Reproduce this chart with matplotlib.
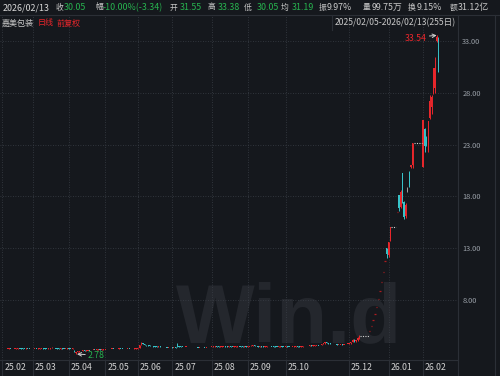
import matplotlib
matplotlib.use('Agg')
import matplotlib.pyplot as plt
from matplotlib.lines import Line2D
import matplotlib.transforms as mtransforms

plt.rcParams['font.family'] = ['Noto Sans CJK SC', 'DejaVu Sans']

W, H = 500, 376
BG = '#15181d'
UP = '#e8262b'
DOWN = '#37c3c9'
FLAT = '#a0a0a0'
GRID = '#3a3f47'
LINE = '#2b2f36'
GREEN = '#27b34f'
LABEL = '#c8c8c8'

# ---------------- data (2025/02/05 - 2026/02/13, 255 trading days) ----------------
opens = [
    # 2025-02
    3.25,3.27,3.29,3.28,3.30,3.31,3.29,3.28,3.30,3.33,3.36,3.34,3.32,3.30,3.29,3.31,3.30,3.28,
    # 2025-03
    3.27,3.28,3.30,3.29,3.31,3.34,3.36,3.33,3.31,3.30,3.32,3.35,3.38,3.36,3.34,3.33,3.31,3.32,3.30,3.29,3.30,
    # 2025-04
    3.31,3.30,3.29,3.12,2.86,2.98,3.05,3.08,3.10,3.12,3.11,3.14,3.16,3.15,3.18,3.20,3.19,3.21,3.22,3.20,3.23,
    # 2025-05
    3.24,3.26,3.28,3.27,3.29,3.30,3.28,3.27,3.29,3.31,3.30,3.28,3.27,3.29,3.30,3.28,3.27,3.29,3.31,
    # 2025-06
    3.33,3.40,3.75,3.80,3.73,3.67,3.62,3.60,3.56,3.55,3.52,3.50,3.49,3.51,3.48,3.46,3.47,3.45,3.44,3.46,
    # 2025-07
    3.45,3.43,3.44,3.70,3.55,3.50,3.49,3.48,3.47,3.49,3.46,3.45,3.47,3.48,3.46,3.45,3.44,3.46,3.47,3.45,3.44,3.46,3.48,
    # 2025-08
    3.47,3.49,3.50,3.52,3.51,3.49,3.50,3.53,3.55,3.52,3.50,3.51,3.49,3.48,3.50,3.52,3.54,3.53,3.51,3.50,3.52,
    # 2025-09
    3.51,3.53,3.55,3.58,3.60,3.57,3.54,3.52,3.53,3.51,3.50,3.52,3.54,3.56,3.55,3.53,3.51,3.50,3.49,3.51,3.52,3.50,
    # 2025-10
    3.49,3.52,3.50,3.48,3.47,3.49,3.51,3.53,3.52,3.50,3.51,3.54,3.56,3.55,3.57,3.59,3.58,
    # 2025-11
    3.60,3.62,3.65,3.63,3.68,3.74,3.82,3.92,3.86,3.80,3.78,3.75,3.77,3.74,3.72,3.73,3.75,3.72,3.74,3.76,
    # 2025-12
    3.78,3.83,3.92,4.18,4.02,4.12,4.30,4.55,4.55,4.55,4.55,4.55,
    5.01,5.51,6.06,6.66,7.33,8.06,8.87,9.76,10.73,11.80,12.98,
    # 2026-01
    12.30,13.70,15.00,15.00,15.00,16.50,18.15,17.00,20.24,17.50,16.10,18.60,20.40,20.80,21.00,
    23.11,23.11,23.11,23.11,23.11,
    # 2026-02
    20.80,24.50,23.60,22.50,25.60,26.60,28.00,28.50,33.00,31.55,
]
highs = [
    3.29,3.31,3.30,3.32,3.33,3.32,3.30,3.31,3.35,3.39,3.37,3.35,3.33,3.31,3.33,3.32,3.31,3.29,
    3.30,3.32,3.31,3.33,3.36,3.39,3.37,3.34,3.32,3.34,3.37,3.42,3.39,3.37,3.35,3.34,3.34,3.33,3.31,3.32,3.33,
    3.33,3.32,3.33,3.14,3.00,3.06,3.10,3.12,3.14,3.14,3.16,3.18,3.18,3.20,3.22,3.22,3.23,3.24,3.23,3.25,3.26,
    3.28,3.30,3.29,3.31,3.32,3.31,3.29,3.31,3.33,3.32,3.31,3.29,3.31,3.32,3.31,3.29,3.31,3.33,3.35,
    3.37,3.69,3.98,3.85,3.76,3.70,3.65,3.62,3.59,3.57,3.54,3.52,3.53,3.52,3.50,3.49,3.48,3.47,3.48,3.48,
    3.46,3.46,3.45,3.84,3.58,3.53,3.51,3.50,3.51,3.50,3.48,3.49,3.50,3.49,3.48,3.46,3.48,3.49,3.48,3.47,3.48,3.50,3.50,
    3.51,3.52,3.54,3.54,3.52,3.52,3.55,3.58,3.56,3.53,3.53,3.52,3.50,3.52,3.54,3.57,3.56,3.54,3.52,3.54,3.54,
    3.55,3.57,3.61,3.64,3.61,3.58,3.55,3.55,3.54,3.52,3.54,3.56,3.58,3.58,3.56,3.54,3.52,3.51,3.53,3.54,3.53,3.51,
    3.54,3.53,3.51,3.49,3.51,3.53,3.55,3.55,3.53,3.53,3.56,3.58,3.58,3.59,3.62,3.61,3.62,
    3.64,3.67,3.66,3.70,3.77,3.86,3.96,3.94,3.88,3.82,3.80,3.79,3.78,3.76,3.75,3.77,3.76,3.76,3.78,3.80,
    3.85,3.96,4.25,4.22,4.15,4.40,4.60,4.55,4.55,4.55,4.55,4.55,
    5.01,5.51,6.06,6.66,7.33,8.06,8.87,9.76,10.73,11.80,12.98,
    13.64,15.00,15.00,15.00,15.00,16.50,18.15,18.59,20.24,17.60,17.40,18.92,20.46,21.01,23.11,
    23.11,23.11,23.11,23.11,23.11,
    25.42,24.60,23.80,25.30,27.83,27.83,30.36,31.50,33.54,33.38,
]
lows = [
    3.24,3.26,3.26,3.27,3.29,3.28,3.26,3.27,3.29,3.32,3.33,3.31,3.29,3.27,3.28,3.28,3.27,3.25,
    3.26,3.27,3.28,3.28,3.30,3.33,3.32,3.30,3.29,3.29,3.31,3.34,3.35,3.33,3.32,3.30,3.30,3.29,3.28,3.28,3.29,
    3.28,3.27,3.28,2.98,2.78,2.96,3.03,3.06,3.09,3.09,3.10,3.13,3.13,3.14,3.17,3.17,3.18,3.19,3.18,3.19,3.21,
    3.23,3.25,3.26,3.26,3.28,3.27,3.26,3.26,3.28,3.29,3.27,3.26,3.26,3.28,3.27,3.26,3.26,3.28,3.30,
    3.32,3.38,3.70,3.72,3.66,3.60,3.58,3.54,3.53,3.50,3.48,3.47,3.47,3.47,3.45,3.44,3.43,3.42,3.43,3.43,
    3.41,3.42,3.40,3.50,3.48,3.47,3.46,3.45,3.46,3.45,3.43,3.44,3.46,3.45,3.44,3.42,3.43,3.45,3.44,3.42,3.43,3.45,3.45,
    3.46,3.48,3.49,3.50,3.48,3.48,3.49,3.52,3.51,3.49,3.49,3.48,3.47,3.47,3.49,3.51,3.52,3.50,3.49,3.49,3.50,
    3.50,3.52,3.54,3.57,3.56,3.53,3.51,3.51,3.50,3.49,3.49,3.51,3.53,3.54,3.52,3.50,3.49,3.48,3.48,3.50,3.49,3.47,
    3.48,3.49,3.47,3.45,3.46,3.48,3.50,3.51,3.49,3.49,3.50,3.53,3.54,3.54,3.56,3.57,3.57,
    3.59,3.61,3.62,3.62,3.67,3.73,3.80,3.83,3.78,3.76,3.73,3.74,3.72,3.70,3.71,3.72,3.70,3.71,3.73,3.75,
    3.76,3.80,3.90,3.95,3.98,4.08,4.28,4.55,4.55,4.55,4.55,4.55,
    5.01,5.51,6.06,6.66,7.33,8.06,8.87,9.76,10.73,11.80,12.05,
    12.15,13.65,15.00,15.00,15.00,16.50,16.60,16.90,17.40,15.84,15.90,18.45,18.90,20.70,20.70,
    23.11,23.11,23.11,23.11,23.11,
    20.80,22.30,22.90,22.30,25.50,26.00,27.90,27.95,32.90,30.05,
]
closes = [
    3.27,3.29,3.28,3.30,3.31,3.29,3.28,3.30,3.33,3.36,3.34,3.32,3.30,3.29,3.31,3.30,3.28,3.27,
    3.28,3.30,3.29,3.31,3.34,3.36,3.33,3.31,3.30,3.32,3.35,3.38,3.36,3.34,3.33,3.31,3.32,3.30,3.29,3.30,3.31,
    3.30,3.29,3.31,2.98,2.96,3.04,3.08,3.10,3.12,3.11,3.14,3.16,3.15,3.18,3.20,3.19,3.21,3.22,3.20,3.23,3.24,
    3.26,3.28,3.27,3.29,3.30,3.28,3.27,3.29,3.31,3.30,3.28,3.27,3.29,3.30,3.28,3.27,3.29,3.31,3.33,
    3.35,3.69,3.82,3.74,3.68,3.62,3.60,3.56,3.55,3.52,3.50,3.49,3.51,3.48,3.46,3.47,3.45,3.44,3.46,3.45,
    3.43,3.44,3.42,3.56,3.50,3.49,3.48,3.47,3.49,3.46,3.45,3.47,3.48,3.46,3.45,3.44,3.46,3.47,3.45,3.44,3.46,3.48,3.47,
    3.49,3.50,3.52,3.51,3.49,3.50,3.53,3.55,3.52,3.50,3.51,3.49,3.48,3.50,3.52,3.54,3.53,3.51,3.50,3.52,3.51,
    3.53,3.55,3.58,3.60,3.57,3.54,3.52,3.53,3.51,3.50,3.52,3.54,3.56,3.55,3.53,3.51,3.50,3.49,3.51,3.52,3.50,3.49,
    3.52,3.50,3.48,3.47,3.49,3.51,3.53,3.52,3.50,3.51,3.54,3.56,3.55,3.57,3.59,3.58,3.60,
    3.62,3.65,3.63,3.68,3.74,3.82,3.90,3.85,3.80,3.78,3.75,3.77,3.74,3.72,3.73,3.75,3.72,3.74,3.76,3.78,
    3.82,3.92,4.12,4.00,4.10,4.30,4.55,4.55,4.55,4.55,4.55,4.55,
    5.01,5.51,6.06,6.66,7.33,8.06,8.87,9.76,10.73,11.80,12.40,
    13.64,15.00,15.00,15.00,15.00,16.50,16.90,18.40,17.60,16.00,17.20,18.60,19.10,21.00,23.11,
    23.11,23.11,23.11,23.11,23.11,
    25.42,22.90,23.00,25.30,27.20,27.60,30.36,30.35,33.39,30.05,
]
# trading-suspension spans (first day index, last day index)
suspension_spans = [(209, 213), (227, 229), (240, 244)]

month_starts = [0, 18, 39, 60, 79, 99, 122, 143, 165, 202, 225, 245]
month_labels = ['25.02', '25.03', '25.04', '25.05', '25.06', '25.07', '25.08',
                '25.09', '25.10', '25.12', '26.01', '26.02']
price_ticks = [8, 13, 18, 23, 28, 33]

min_day, min_price = 43, 2.78
max_day, max_price = 253, 33.54

header_date = '2026/02/13'
header_fields = [('收', '30.05'), ('幅', '-10.00%(-3.34)'), ('开', '31.55'), ('高', '33.38'),
                 ('低', '30.05'), ('均', '31.19'), ('振', '9.97%'), ('量', '99.75万'),
                 ('换', '9.15%'), ('额', '31.12亿')]
stock_name = '嘉美包装'
period_text = '日线'
adjust_text = '前复权'
range_text = '2025/02/05-2026/02/13(255日)'

n = len(closes)
assert len(opens) == n and len(highs) == n and len(lows) == n, (len(opens), len(highs), len(lows), n)

# ---------------- figure ----------------
fig = plt.figure(figsize=(W / 100, H / 100), dpi=100, facecolor=BG)
ax = fig.add_axes([0, (H - 360) / H, 458 / W, (360 - 15) / H])
ax.set_facecolor(BG)
ax.set_xlim(-1.22, 265.4)
ax.set_ylim(2.21, 35.51)
for s in ax.spines.values():
    s.set_visible(False)

# watermark (its box kept inside the plot area, above the date row)
ax.text(176 / W, (H - 359) / H, 'Win.d', transform=fig.transFigure, family='Liberation Sans',
        weight='bold', fontsize=60, color='#24272d', ha='left', va='bottom',
        zorder=0.2)

# grid
for v in price_ticks:
    ax.axhline(v, color=GRID, lw=0.6, ls=(0, (1, 2)), zorder=0.5)
for idx in month_starts:
    ax.axvline(idx, color=GRID, lw=0.6, ls=(0, (1, 2)), zorder=0.5)

blend = mtransforms.blended_transform_factory(ax.transData, ax.transAxes)
for idx, lab in zip(month_starts, month_labels):
    ax.plot([idx, idx], [0, -16 / 345], transform=blend, clip_on=False, color=LINE, lw=0.8)
    ax.annotate(lab, xy=(idx, 0), xycoords=blend, xytext=(2, -7.5), textcoords='offset pixels',
                ha='left', va='center', fontsize=6.3, color='#d2d2d2', annotation_clip=False)

# y labels on the right
ax.yaxis.tick_right()
ax.set_yticks(price_ticks)
ax.set_yticklabels([f'{v:.2f}' for v in price_ticks])
ax.tick_params(axis='y', length=0, pad=3, labelsize=5.3, labelcolor='#9aa0a8')
ax.set_xticks([])

# candles
susp = set()
for a, b in suspension_spans:
    susp.update(range(a, b + 1))
for i in range(n):
    if i in susp:
        continue
    o, h, l, c = opens[i], highs[i], lows[i], closes[i]
    prev = closes[i - 1] if i > 0 else o
    if h == l:
        col = '#b01c20' if c >= prev else DOWN
        ax.hlines(c, i - 0.4, i + 0.4, color=col, lw=0.9, zorder=3)
        continue
    col = UP if c > o else (DOWN if c < o else FLAT)
    ax.vlines(i, l, h, color=col, lw=0.7, zorder=3)
    bot, ht = min(o, c), abs(c - o)
    if ht < 0.07:
        bot, ht = (o + c) / 2 - 0.035, 0.07
    ax.bar(i, ht, bottom=bot, width=0.7, color=col, lw=0, zorder=3)

for a, b in suspension_spans:
    ax.hlines(closes[a], a - 0.5, b + 0.5, colors='#d0d0d0', linestyles=(0, (1, 1.2)), lw=0.8, zorder=3)

# min / max markers
ax.annotate(f'{min_price:.2f}', xy=(min_day + 0.6, min_price), xytext=(11, -1), textcoords='offset pixels',
            ha='left', va='center', fontsize=6.3, color=GREEN,
            arrowprops=dict(arrowstyle='->', color='#d0d0d0', lw=0.7, shrinkA=0, shrinkB=0))
ax.annotate(f'{max_price:.2f}', xy=(max_day, max_price), xytext=(-10, -3.5), textcoords='offset pixels',
            ha='right', va='center', fontsize=6.3, color=UP,
            arrowprops=dict(arrowstyle='->', color='#d0d0d0', lw=0.7, shrinkA=0, shrinkB=0,
                            relpos=(1.0, 0.8)))

# ---------------- frame lines ----------------
def fline(x0, y0, x1, y1, color=LINE, lw=0.8):
    fig.add_artist(Line2D([x0 / W, x1 / W], [1 - y0 / H, 1 - y1 / H], transform=fig.transFigure,
                          color=color, lw=lw))

fline(0, 15, W, 15)
fline(0, 360, 458, 360)
fline(458, 15, 458, H)
fline(495, 15, 495, H)
fline(332, 15, 332, 30)

# ---------------- header texts ----------------
def put(x, y, s, color, size, ha='left'):
    fig.text(x / W, 1 - y / H, s, color=color, fontsize=size, ha=ha, va='center')

put(3, 7.5, header_date, '#d8d8d8', 6.4)
label_x = [56, 95, 170, 208, 244, 281, 319, 363, 408, 450]
value_x = [64, 103, 180, 218, 257, 292, 327, 372, 417, 458]
value_col = [GREEN, GREEN, GREEN, GREEN, GREEN, GREEN, LABEL, LABEL, LABEL, LABEL]
for (lab, val), lx, vx, vc in zip(header_fields, label_x, value_x, value_col):
    put(lx, 7.5, lab, LABEL, 5.6)
    put(vx, 7.5, val, vc, 6.4)

put(2, 23, stock_name, LABEL, 5.8)
put(38, 23, period_text, UP, 5.8)
put(57, 23, adjust_text, UP, 5.8)
put(335, 23, range_text, LABEL, 6.2)

fig.savefig('out.png', dpi=100, facecolor=BG)
